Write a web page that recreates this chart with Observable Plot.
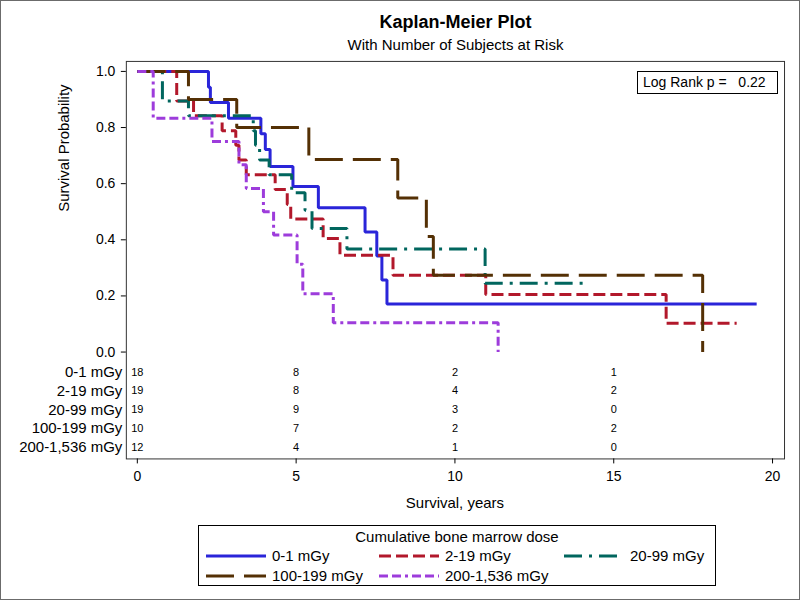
<!DOCTYPE html>
<html><head><meta charset="utf-8">
<script src="https://cdn.jsdelivr.net/npm/d3@7"></script>
<script src="https://cdn.jsdelivr.net/npm/@observablehq/plot@0.6"></script>
<style>
body{margin:0;background:#fff}
#root{position:relative;width:800px;height:600px;box-sizing:border-box;border:1px solid #6b6b6b;overflow:hidden;font-family:"Liberation Sans",Arial,sans-serif;color:#000;background:#fff}
#chart{position:absolute;left:-1px;top:-1px}
#title{position:absolute;left:125px;width:659px;top:11px;text-align:center;font-weight:bold;font-size:18px;line-height:21px}
#subtitle{position:absolute;left:125px;width:659px;top:35px;text-align:center;font-size:15px;line-height:18px}
#logrank{position:absolute;left:636px;top:70px;width:141px;height:23px;box-sizing:border-box;border:1px solid #000;font-size:14px;line-height:21px;white-space:pre;padding-left:5px;background:#fff}
#legend{position:absolute;left:197px;top:524px;width:518px;height:61px;box-sizing:border-box;border:1px solid #000;background:#fff}
#legend .ttl{position:absolute;left:0;width:100%;top:2px;text-align:center;font-size:15px;line-height:18px}
#legend .item{position:absolute;display:flex;align-items:center;font-size:15px;line-height:18px;white-space:pre}
#legend svg{display:block;margin-right:6px}
</style></head>
<body><div id="root">
<div id="chart"></div>
<div id="title">Kaplan-Meier Plot</div>
<div id="subtitle">With Number of Subjects at Risk</div>
<div id="logrank">Log Rank p =   0.22</div>
<div id="legend"><div class="ttl">Cumulative bone marrow dose</div></div>
</div>
<script>
// ---- data ----
const groups = ["0-1 mGy", "2-19 mGy", "20-99 mGy", "100-199 mGy", "200-1,536 mGy"];
const colors = ["#2A25D9", "#B2182B", "#01665E", "#543005", "#9D3CDB"];
const dashes = [null, "12,5", "18,7,3,7", "28,10", "9,4,9,4,3,4"];

const timeBlue = [0, 2.24, 2.3, 2.87, 3.89, 4.03, 4.18, 4.9, 5.7, 7.17, 7.54, 7.7, 7.86, 19.5];
const survBlue = [1.0, 0.944, 0.889, 0.833, 0.778, 0.722, 0.661, 0.59, 0.514, 0.428, 0.342, 0.257, 0.171, 0.171];

const timeRed = [0, 1.24, 1.77, 2.67, 3.1, 3.2, 3.43, 4.34, 4.72, 4.83, 5.85, 6.38, 8.05, 10.97, 16.65, 18.87];
const survRed = [1.0, 0.895, 0.842, 0.789, 0.737, 0.684, 0.632, 0.579, 0.526, 0.474, 0.405, 0.345, 0.274, 0.205, 0.103, 0.103];

const timeGreen = [0, 0.79, 1.61, 3.65, 3.72, 3.85, 4.15, 4.86, 5.28, 5.5, 6.6, 10.95, 14.04];
const survGreen = [1.0, 0.895, 0.842, 0.789, 0.737, 0.684, 0.632, 0.568, 0.505, 0.44, 0.367, 0.245, 0.245];

const timeBrown = [0, 1.61, 3.13, 5.4, 8.2, 9.1, 9.32, 17.8];
const survBrown = [1.0, 0.9, 0.8, 0.686, 0.549, 0.412, 0.274, 0];

const timePurple = [0, 0.5, 2.35, 3.2, 3.43, 3.97, 4.29, 5.03, 5.21, 6.17, 11.36];
const survPurple = [1.0, 0.833, 0.75, 0.667, 0.583, 0.5, 0.417, 0.313, 0.208, 0.104, 0];

const riskTimes = [0, 5, 10, 15];
const riskBlue = [18, 8, 2, 1];
const riskRed = [19, 8, 4, 2];
const riskGreen = [19, 9, 3, 0];
const riskBrown = [10, 7, 2, 2];
const riskPurple = [12, 4, 1, 0];

const xTicks = [0, 5, 10, 15, 20];
const yTicks = [0, 0.2, 0.4, 0.6, 0.8, 1.0];

// ---- build tables ----
const times = [timeBlue, timeRed, timeGreen, timeBrown, timePurple];
const survs = [survBlue, survRed, survGreen, survBrown, survPurple];
const risks = [riskBlue, riskRed, riskGreen, riskBrown, riskPurple];

const curves = groups.map((g, i) => times[i].map((t, j) => ({group: g, t, s: survs[i][j]})));

// at-risk rows sit below the 0 line in the same y scale
const rowY = i => -0.0712 - 0.0672 * i;
const riskRows = [];
groups.forEach((g, i) => risks[i].forEach((n, j) => riskRows.push({row: i, t: riskTimes[j], n})));

const font = "Liberation Sans, Arial, sans-serif";

const chart = Plot.plot({
  width: 800,
  height: 600,
  marginLeft: 126,
  marginRight: 15,
  marginTop: 61,
  marginBottom: 141,
  style: {fontFamily: font, fontSize: "14px", background: "transparent", color: "#000"},
  x: {domain: [-0.3459, 20.377]},
  y: {domain: [-0.3808, 1.0356]},
  marks: [
    Plot.frame({stroke: "#333"}),
    Plot.axisY({ticks: yTicks, tickFormat: d3.format(".1f"), tickSize: 5, tickPadding: 6, label: null, fontSize: 14}),
    Plot.axisX({ticks: xTicks, tickSize: 5, tickPadding: 7, label: null, fontSize: 14}),
    ...curves.map((c, i) => Plot.line(c, {
      x: "t", y: "s", curve: "step-after",
      stroke: colors[i], strokeWidth: 3,
      strokeDasharray: dashes[i] || undefined,
      strokeLinecap: "butt", strokeLinejoin: "miter"
    })),
    Plot.text(groups, {
      text: d => d, frameAnchor: "left", y: (d, i) => rowY(i),
      textAnchor: "end", dx: -4, fontSize: 15
    }),
    Plot.text(riskRows, {
      x: "t", y: d => rowY(d.row), text: d => String(d.n), fontSize: 11
    }),
    Plot.text(["Survival Probability"], {
      text: d => d, frameAnchor: "left", y: () => 0.5, rotate: -90, dx: -62, fontSize: 15
    }),
    Plot.text(["Survival, years"], {
      text: d => d, frameAnchor: "bottom", x: () => 10, dy: 49, fontSize: 15
    })
  ]
});
document.getElementById("chart").appendChild(chart);

// ---- legend ----
const legend = document.getElementById("legend");
const slots = [
  {left: 7, top: 21}, {left: 180, top: 21}, {left: 365, top: 21},
  {left: 7, top: 41}, {left: 180, top: 41}
];
groups.forEach((g, i) => {
  const item = document.createElement("div");
  item.className = "item";
  item.style.left = slots[i].left + "px";
  item.style.top = slots[i].top + "px";
  const svg = d3.create("svg").attr("width", 60).attr("height", 10);
  svg.append("line").attr("x1", 0).attr("x2", 60).attr("y1", 5).attr("y2", 5)
    .attr("stroke", colors[i]).attr("stroke-width", 3)
    .attr("stroke-dasharray", dashes[i]);
  item.appendChild(svg.node());
  const span = document.createElement("span");
  span.textContent = g;
  item.appendChild(span);
  legend.appendChild(item);
});
</script>
</body></html>
